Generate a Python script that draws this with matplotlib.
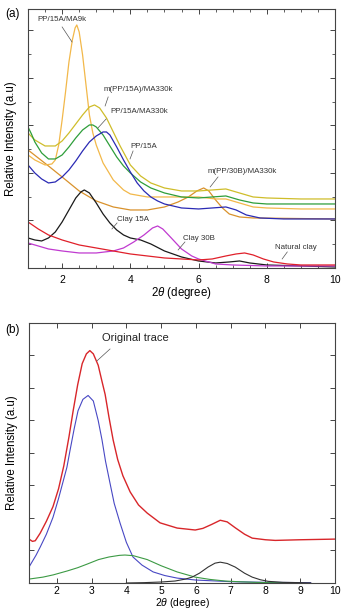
import numpy as np
import matplotlib
matplotlib.use('Agg')
import matplotlib.pyplot as plt
from matplotlib.ticker import MultipleLocator, NullFormatter

plt.rcParams['font.family'] = ['Liberation Sans', 'DejaVu Sans']
plt.rcParams['mathtext.fontset'] = 'custom'
plt.rcParams['mathtext.it'] = 'Liberation Sans:italic'

#------- panel (a) data : 2theta vs relative intensity (arb. units)

ma9k_x = [1.0, 1.2, 1.5, 1.7, 1.8, 1.9, 2.0, 2.1, 2.2, 2.3, 2.38, 2.43, 2.5, 2.6, 2.7, 2.8, 2.9,
          3.0, 3.2, 3.5, 3.8, 4.0, 4.5, 5.0, 5.5, 6.0, 6.5, 6.8, 7.2, 7.6, 8.0, 9.0, 10.0]
ma9k_y = [113, 108, 103, 104, 108, 123, 148, 176, 206, 228, 240, 243, 236, 213, 183, 153, 135,
          123, 105, 88, 78, 74, 71, 71, 71, 71, 69, 69, 65, 61, 60, 59, 59]

m15a_x = [1.0, 1.2, 1.5, 1.8, 2.0, 2.2, 2.4, 2.6, 2.8, 2.95, 3.1, 3.3, 3.5, 3.7, 4.0, 4.3, 4.6,
          5.0, 5.5, 6.0, 6.4, 6.8, 7.2, 7.6, 8.0, 9.0, 10.0]
m15a_y = [135, 128, 122, 122, 127, 135, 144, 153, 161, 163, 160, 150, 136, 122, 103, 92, 85,
          80, 77, 77, 78, 79, 75, 71, 70, 69, 69]

ma330_x = [1.0, 1.1, 1.2, 1.4, 1.6, 1.8, 2.0, 2.2, 2.4, 2.6, 2.8, 2.9, 3.0, 3.2, 3.4, 3.6, 3.8,
           4.0, 4.3, 4.6, 5.0, 5.5, 6.0, 6.4, 6.8, 7.2, 7.6, 8.0, 10.0]
ma330_y = [141, 134, 126, 115, 109, 109, 113, 121, 130, 138, 143, 143, 141, 133, 122, 111, 102,
           95, 86, 80, 75, 71, 70, 71, 72, 68, 65, 64, 64]

pp15a_x = [1.0, 1.2, 1.4, 1.6, 1.8, 2.0, 2.2, 2.4, 2.6, 2.8, 3.0, 3.2, 3.3, 3.4, 3.6, 3.8, 4.0,
           4.2, 4.4, 4.6, 4.8, 5.0, 5.5, 6.0, 6.4, 6.8, 7.1, 7.4, 7.8, 8.5, 10.0]
pp15a_y = [103, 95, 89, 85, 86, 91, 98, 107, 117, 126, 132, 136, 136, 133, 121, 108, 96,
           85, 77, 71, 67, 64, 60, 59, 60, 61, 58, 53, 50, 49, 49]

m30b_x = [1.0, 1.3, 1.6, 2.0, 2.5, 3.0, 3.5, 4.0, 4.5, 5.0, 5.4, 5.7, 5.95, 6.15, 6.3, 6.5,
          6.7, 6.9, 7.2, 7.6, 10.0]
m30b_y = [118, 110, 102, 91, 77, 67, 61, 58, 58, 61, 66, 71, 77, 80, 77, 68,
          60, 54, 51, 50, 49]

clay15a_x = [1.0, 1.2, 1.4, 1.6, 1.8, 2.0, 2.2, 2.4, 2.55, 2.65, 2.8, 3.0, 3.2, 3.4, 3.6, 3.8,
             4.0, 4.3, 4.6, 5.0, 5.5, 6.0, 6.5, 6.9, 7.2, 7.5, 8.0, 9.0, 10.0]
clay15a_y = [30, 28, 27, 30, 36, 46, 58, 70, 76, 78, 75, 65, 54, 45, 38, 33,
             30, 28, 24, 17, 11, 7, 5, 6, 7, 5, 3, 2, 1]

clay30b_x = [1.0, 1.3, 1.6, 2.0, 2.5, 3.0, 3.5, 3.8, 4.1, 4.4, 4.65, 4.8, 4.95, 5.2, 5.5, 5.8,
             6.0, 6.5, 7.0, 8.0, 10.0]
clay30b_y = [25, 22, 19, 17, 15, 15, 17, 20, 26, 33, 40, 42, 39, 30, 19, 12,
             9, 4, 3, 2, 2]

natural_x = [1.0, 1.3, 1.6, 2.0, 2.5, 3.0, 3.5, 4.0, 4.5, 5.0, 5.5, 6.0, 6.4, 6.8, 7.1, 7.35,
             7.6, 7.9, 8.2, 8.6, 9.0, 10.0]
natural_y = [46, 39, 33, 28, 23, 20, 17, 14, 12, 10, 9, 8, 9, 12, 14, 15,
             13, 9, 6, 4, 3, 3]

#------- panel (b) data : original trace + fitted peaks

trace_x = [1.2, 1.3, 1.38, 1.52, 1.7, 1.89, 2.05, 2.2, 2.35, 2.47, 2.6, 2.73, 2.85, 2.95, 3.05,
           3.19, 3.3, 3.39, 3.5, 3.62, 3.75, 3.9, 4.11, 4.35, 4.6, 4.97, 5.46, 5.98, 6.2, 6.45,
           6.7, 6.9, 7.13, 7.4, 7.62, 8.0, 8.28, 9.0, 10.0]
trace_y = [1.35, 1.28, 1.3, 1.53, 1.9, 2.35, 2.9, 3.6, 4.5, 5.3, 6.1, 6.75, 7.05, 7.15, 7.05,
           6.7, 6.2, 5.8, 5.1, 4.4, 3.8, 3.3, 2.8, 2.4, 2.15, 1.85, 1.69, 1.63, 1.68, 1.8,
           1.93, 1.88, 1.7, 1.5, 1.38, 1.33, 1.31, 1.33, 1.35]

peak1_x = [1.2, 1.4, 1.52, 1.7, 1.89, 2.05, 2.2, 2.29, 2.38, 2.5, 2.61, 2.75, 2.9, 3.05, 3.19,
           3.3, 3.4, 3.53, 3.65, 3.82, 4.0, 4.19, 4.45, 4.77, 5.1, 5.46, 6.0, 7.0, 8.0, 9.3]
peak1_y = [0.49, 0.85, 1.1, 1.5, 2.02, 2.6, 3.2, 3.56, 4.08, 4.75, 5.3, 5.65, 5.77, 5.6, 5.0,
           4.4, 3.75, 3.07, 2.45, 1.84, 1.25, 0.8, 0.55, 0.34, 0.23, 0.15, 0.09, 0.04, 0.02, 0.01]

peak2_x = [1.2, 1.6, 1.9, 2.3, 2.6, 2.87, 3.2, 3.5, 3.8, 3.96, 4.2, 4.6, 5.0, 5.46, 5.98, 6.4,
           6.84, 7.3, 7.7, 8.1, 8.57]
peak2_y = [0.12, 0.18, 0.25, 0.37, 0.47, 0.58, 0.72, 0.8, 0.85, 0.86, 0.84, 0.72, 0.53, 0.34,
           0.18, 0.11, 0.06, 0.035, 0.02, 0.01, 0.005]

peak3_x = [4.0, 4.5, 5.0, 5.4, 5.7, 5.89, 6.1, 6.35, 6.55, 6.7, 6.9, 7.13, 7.4, 7.62, 7.85,
           8.08, 8.5, 9.0, 9.3]
peak3_y = [0.0, 0.01, 0.03, 0.06, 0.12, 0.18, 0.3, 0.49, 0.61, 0.64, 0.6, 0.49, 0.3, 0.18, 0.1,
           0.05, 0.02, 0.01, 0.0]

#-----------------------

fig = plt.figure(figsize=(3.42, 6.10), dpi=100)
ax1 = fig.add_axes([0.0819, 0.5607, 0.8977, 0.4246])
ax2 = fig.add_axes([0.0848, 0.0443, 0.8947, 0.4262])

lw = 0.9
ax1.plot(m30b_x, m30b_y, color='#d9922c', lw=lw)
ax1.plot(ma9k_x, ma9k_y, color='#f2b84a', lw=lw)
ax1.plot(m15a_x, m15a_y, color='#cfbd2a', lw=lw)
ax1.plot(ma330_x, ma330_y, color='#2e9e3a', lw=lw)
ax1.plot(pp15a_x, pp15a_y, color='#2a2ab4', lw=lw)
ax1.plot(clay15a_x, clay15a_y, color='#1a1a1a', lw=lw)
ax1.plot(clay30b_x, clay30b_y, color='#c03ad0', lw=lw)
ax1.plot(natural_x, natural_y, color='#e0202a', lw=lw)

ax1.set_xlim(1, 10)
ax1.set_ylim(0, 259)

fs = 5.7
lc = '#555555'
notes = [
    ('PP/15A/MA9k', 1.27, 248, (2.0, 241), (2.29, 226)),
    ('m(PP/15A)/MA330k', 3.2, 178, (3.35, 171), (3.26, 162)),
    ('PP/15A/MA330k', 3.4, 156, (3.29, 149), (3.05, 140)),
    ('PP/15A', 4.0, 121, (4.08, 117), (3.99, 109)),
    ('m(PP/30B)/MA330k', 6.25, 96, (6.57, 91), (6.34, 81)),
    ('Clay 15A', 3.6, 48, (3.61, 45), (3.46, 39)),
    ('Clay 30B', 5.55, 29, (5.6, 26), (5.4, 18)),
    ('Natural clay', 8.25, 20, (8.6, 16), (8.45, 9)),
]
for txt, tx, ty, p0, p1 in notes:
    ax1.text(tx, ty, txt, fontsize=fs, color='#333333', va='center', ha='left')
    ax1.plot([p0[0], p1[0]], [p0[1], p1[1]], color=lc, lw=0.5)

ax2.plot(trace_x, trace_y, color='#d8262a', lw=1.0)
ax2.plot(peak1_x, peak1_y, color='#4848c4', lw=0.8)
ax2.plot(peak2_x, peak2_y, color='#3c9a44', lw=0.8)
ax2.plot(peak3_x, peak3_y, color='#333333', lw=0.8)
ax2.set_xlim(1.2, 10)
ax2.set_ylim(0, 8)
ax2.text(3.3, 7.55, 'Original trace', fontsize=8, color='#222222', va='center', ha='left')
ax2.plot([3.53, 3.16], [7.2, 6.84], color=lc, lw=0.5)

for ax in (ax1, ax2):
    for s in ax.spines.values():
        s.set_color('#444444')
        s.set_linewidth(0.8)
    ax.tick_params(which='both', direction='in', top=True, right=True, color='#444444',
                   labelsize=7.5, pad=5)
    ax.tick_params(which='major', length=3.5, width=0.7)
    ax.tick_params(which='minor', length=2, width=0.6)
    ax.yaxis.set_major_formatter(NullFormatter())
    ax.set_ylabel('Relative Intensity (a.u)', fontsize=8.3, labelpad=3)

ax2.tick_params(axis='x', pad=2.5)
ax1.set_xlabel('2$\\mathit{\\theta}$ (degree)', fontsize=8.3, labelpad=0)
ax2.set_xlabel('2$\\mathit{\\theta}$ (degree)', fontsize=7.5, labelpad=0)

ax1.xaxis.set_major_locator(MultipleLocator(2))
ax1.xaxis.set_minor_locator(MultipleLocator(0.5))
ax1.yaxis.set_major_locator(MultipleLocator(47.5))
ax1.yaxis.set_minor_locator(MultipleLocator(23.75))

ax2.xaxis.set_major_locator(MultipleLocator(1))
ax2.yaxis.set_major_locator(MultipleLocator(1))

fig.text(0.015, 0.977, '(a)', fontsize=8.5, va='center')
fig.text(0.015, 0.459, '(b)', fontsize=8.5, va='center')

fig.savefig('out.png', dpi=100)
